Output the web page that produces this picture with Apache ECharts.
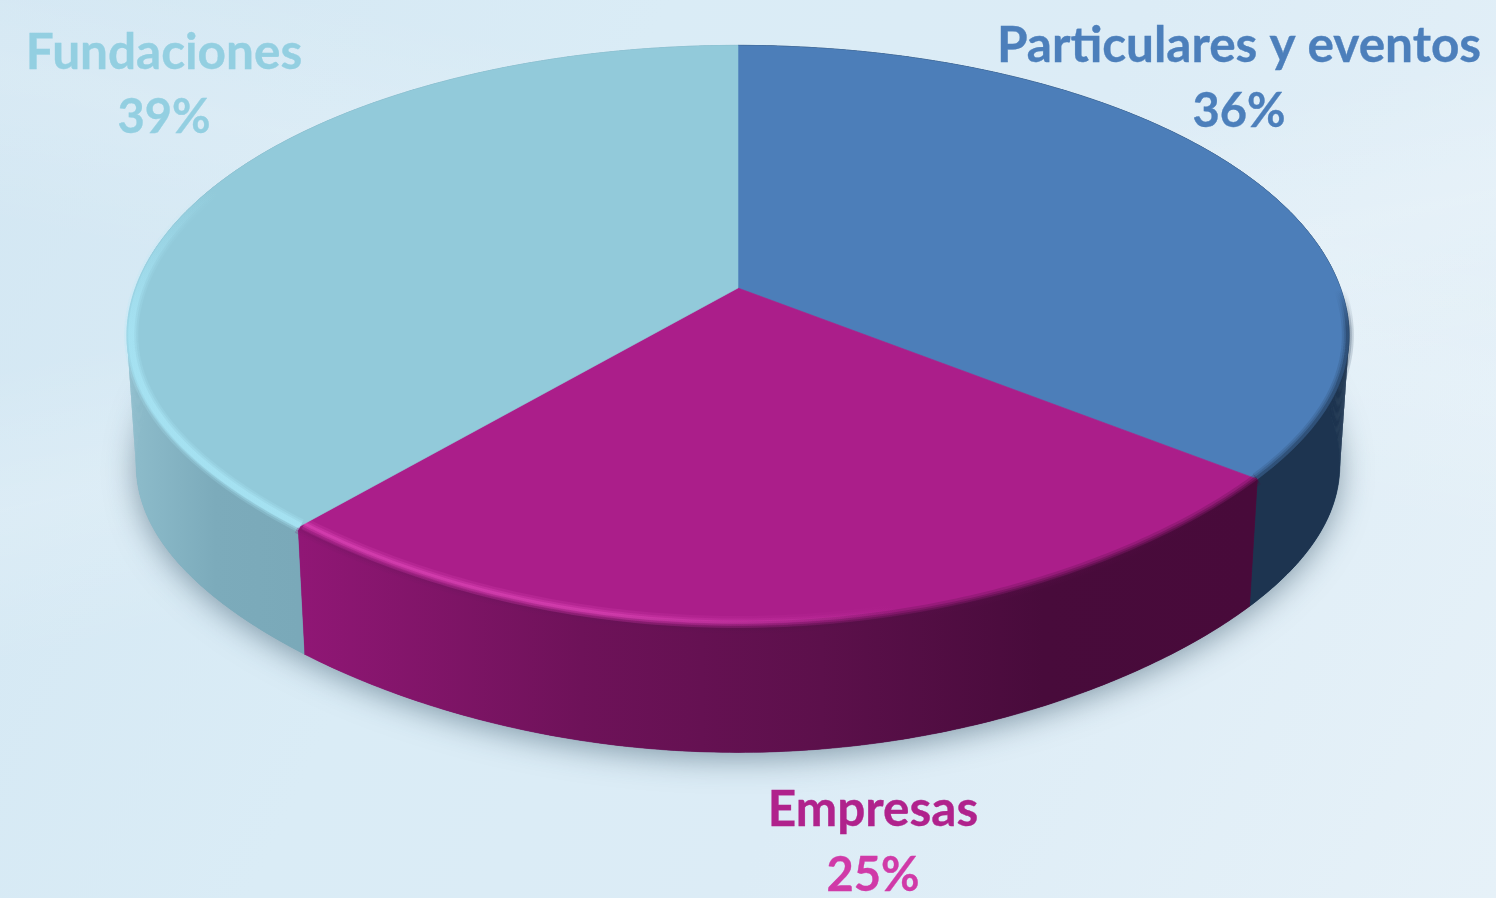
<!DOCTYPE html>
<html><head><meta charset="utf-8">
<style>
html,body{margin:0;padding:0;width:1496px;height:898px;overflow:hidden}
body{background:
 linear-gradient(168deg,rgba(255,255,255,0) 30%,rgba(255,255,255,.16) 42%,rgba(255,255,255,0) 55%),
 linear-gradient(12deg,rgba(255,255,255,0) 55%,rgba(255,255,255,.12) 68%,rgba(255,255,255,0) 80%),
 linear-gradient(115deg,#d3e7f3 0%,#daecf6 35%,#dcecf6 60%,#e6f1f8 100%);}
#c{width:1496px;height:898px}
</style>
<script src="https://cdn.jsdelivr.net/npm/echarts@6/dist/echarts.min.js"></script>
</head><body><div id="c"></div>
<script>
const categories = ['Particulares y eventos','Empresas','Fundaciones'];
const values = [36,25,39];
const topColors = ['#4c7eb9','#ab1e8a','#92cada'];
const nameColors = ['#4c7fbb','#b0228c','#93cfe1'];
const pctColors = ['#4c7fbb','#d03aa8','#93cfe1'];

// layout of the tilted disc
const apexX=738, apexY=288, kPersp=0.1664, faceA=602.5, faceB=283, flatten=44;
const depth=130, baseScale=0.985;
const labelAnchors=[[1239,46.5,111.5],[873,810.5,876],[164,53,117.5]];
const fontFamily='Lato, "Open Sans", sans-serif', nameSize=49.5, pctSize=47;

const total=values.reduce((a,b)=>a+b,0);
function angles(i){
  let s=0; for(let j=0;j<i;j++) s+=values[j];
  return [s/total*2*Math.PI,(s+values[i])/total*2*Math.PI];
}
function rimPoint(t,scale){
  const u=Math.sin(t), v=-Math.cos(t), d=1-kPersp*v, sc=scale||1;
  const sag=v>0?flatten*v*v*u*u:0;
  return [apexX+sc*faceA*u/d, apexY+sc*(faceB*v/d-sag)];
}
function basePoint(t){
  const p=rimPoint(t,baseScale);
  return [p[0],p[1]+depth];
}
function arc(fn,a,b){
  const n=Math.max(8,Math.round((b-a)*90)), out=[];
  for(let k=0;k<=n;k++) out.push(fn(a+(b-a)*k/n));
  return out;
}
const G=(x,y,x2,y2,stops)=>new echarts.graphic.LinearGradient(x,y,x2,y2,stops.map(s=>({offset:s[0],color:s[1]})),true);

const sideFills=[
  ()=>'#1d3450',
  ()=>G(293,0,1255,0,[[0,'#911776'],[.3,'#6e1259'],[.55,'#5c104b'],[.78,'#480b3b'],[1,'#480a3a']]),
  ()=>G(130,0,300,0,[[0,'#8dbccb'],[.5,'#7cabbb'],[1,'#7aa9b9']])
];

function shadowItem(){
  const pts=arc(basePoint,0,2*Math.PI);
  return {type:'polygon',silent:true,shape:{points:pts},
    style:{fill:'#7a9fb2',shadowBlur:30,shadowColor:'rgba(45,75,95,.5)',shadowOffsetY:6}};
}
function sideItem(params){
  const i=params.dataIndex, [a,b]=angles(i);
  const up=arc(t=>rimPoint(t),a,b), down=arc(basePoint,a,b), fill=sideFills[i](), children=[];
  // swept quads give the silhouette; the solid polygon on top hides their seams
  for(let k=0;k<up.length-1;k++){
    children.push({type:'polygon',silent:true,shape:{points:[up[k],up[k+1],down[k+1],down[k]]},style:{fill}});
  }
  children.push({type:'polygon',silent:true,shape:{points:up.concat(down.slice().reverse())},style:{fill,stroke:fill,lineWidth:.6}});
  return {type:'group',children};
}
function band(pts,stroke,lineWidth){
  return {type:'polyline',silent:true,shape:{points:pts},style:{fill:null,stroke,lineWidth,lineCap:'butt',lineJoin:'round'}};
}
function rimBands(i,a,b){
  const out=[];
  if(i===0){
    const p=arc(t=>rimPoint(t,0.998),a,b);
    [[12,.16],[8,.22],[4,.4]].forEach(w=>out.push(band(p,G(0,290,0,480,[[0,'rgba(29,52,80,0)'],[.2,'rgba(29,52,80,'+w[1]+')'],[1,'rgba(29,52,80,'+w[1]+')']]),w[0])));
  }
  if(i===1){
    const q=arc(t=>rimPoint(t,1),a,b);
    [[12,.22],[7,.35],[3,.5]].forEach(w=>out.push(band(q,G(293,0,1258,0,[[0,'rgba(130,22,108,'+w[1]+')'],[.5,'rgba(90,16,75,'+w[1]+')'],[1,'rgba(72,10,58,'+w[1]+')']]),w[0])));
    const p=arc(t=>rimPoint(t,0.984),a,b);
    [[12,.16],[7,.26],[3,.4]].forEach(w=>out.push(band(p,G(293,0,900,0,[[0,'rgba(232,76,192,'+w[1]+')'],[.5,'rgba(232,76,192,'+w[1]+')'],[1,'rgba(232,76,192,0)']]),w[0])));
  }
  if(i===2){
    const p=arc(t=>rimPoint(t,0.993),a,b);
    [[14,.22],[10,.35],[6,.55]].forEach(w=>out.push(band(p,G(0,190,0,330,[[0,'rgba(170,232,248,0)'],[1,'rgba(170,232,248,'+w[1]+')']]),w[0])));
  }
  return out;
}
function topItem(params){
  const i=params.dataIndex, [a,b]=angles(i);
  const pts=[[apexX,apexY]].concat(arc(t=>rimPoint(t),a,b));
  return {type:'group',children:[
    {type:'polygon',silent:true,shape:{points:pts},style:{fill:topColors[i],stroke:topColors[i],lineWidth:.6}},
    ...rimBands(i,a,b)
  ]};
}
function textItem(text,x,y,color,fontSize){
  return {type:'text',silent:true,style:{text,x,y,fill:color,stroke:color,lineWidth:.35,align:'center',verticalAlign:'middle',
    fontFamily,fontWeight:'bold',fontSize}};
}
function labelItem(params){
  const i=params.dataIndex, [x,y1,y2]=labelAnchors[i];
  return {type:'group',children:[
    textItem(categories[i],x,y1,nameColors[i],nameSize),
    textItem(values[i]+'%',x,y2,pctColors[i],pctSize)
  ]};
}
const data=categories.map((name,i)=>({name,value:values[i]}));
const chart=echarts.init(document.getElementById('c'),null,{renderer:'canvas'});
chart.setOption({
  animation:false,
  backgroundColor:'transparent',
  tooltip:{show:false},
  series:[
    {type:'custom',coordinateSystem:'none',name:'shadow',z:1,data:[{name:'all',value:total}],renderItem:shadowItem},
    {type:'custom',coordinateSystem:'none',name:'side',z:2,data,renderItem:sideItem},
    {type:'custom',coordinateSystem:'none',name:'top',z:3,data,renderItem:topItem},
    {type:'custom',coordinateSystem:'none',name:'labels',z:4,data,renderItem:labelItem}
  ]
});
</script></body></html>
